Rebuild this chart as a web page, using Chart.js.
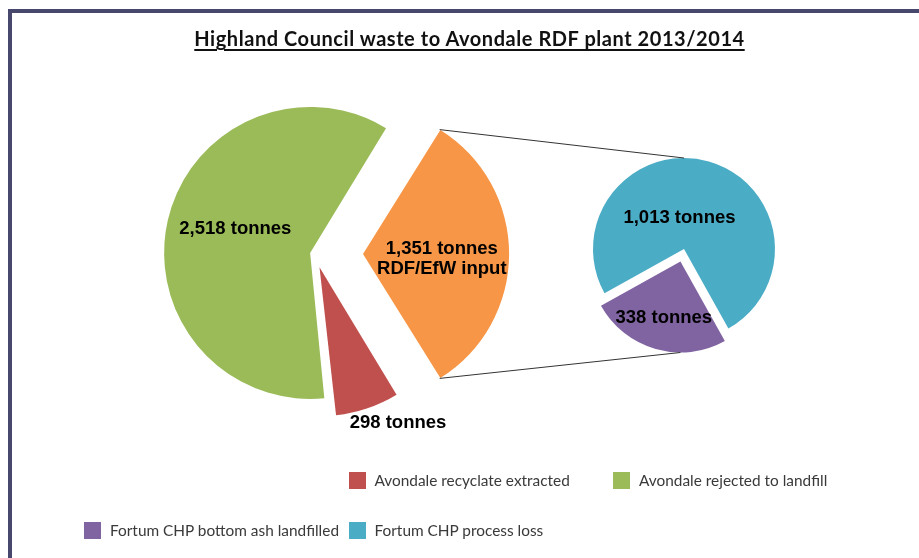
<!DOCTYPE html>
<html>
<head>
<meta charset="utf-8">
<script src="https://cdn.jsdelivr.net/npm/chart.js@4.4.1/dist/chart.umd.min.js"></script>
<style>
  html, body { margin: 0; padding: 0; background: #fff; }
  #wrap { position: relative; width: 919px; height: 558px; overflow: hidden; background: #fff; }
  #frame { position: absolute; left: 8px; top: 9px; width: 1000px; height: 700px;
           border-top: 4px solid #48486e; border-left: 4px solid #48486e; }
  canvas { position: absolute; left: 0; top: 0; }
  #title { position: absolute; left: 0; top: 26px; width: 939px; text-align: center;
           font: bold 20px Lato, sans-serif; letter-spacing: 0.55px; color: #111;
           text-decoration: underline; text-decoration-thickness: 1.5px; text-underline-offset: 3px; }
  #legend { position: absolute; left: 84px; top: 471px; display: grid;
            grid-template-columns: repeat(3, 264.5px); grid-auto-rows: 50px; }
  .item { display: flex; align-items: center; height: 18px;
          font: 15.4px Lato, sans-serif; color: #3a3a3a; }
  .key { width: 17px; height: 17px; margin-right: 9px; flex: none; }
</style>
</head>
<body>
<div id="wrap">
  <div id="frame"></div>
  <canvas id="mainPie" width="919" height="558"></canvas>
  <canvas id="subPie" width="919" height="558"></canvas>
  <div id="title">Highland Council waste to Avondale RDF plant 2013/2014</div>
  <div id="legend"></div>
</div>
<script>
// dados (tonnes)
const mainLabels = ['RDF/EfW input', 'Avondale recyclate extracted', 'Avondale rejected to landfill'];
const mainValues = [1351, 298, 2518];
const subLabels = ['Fortum CHP bottom ash landfilled', 'Fortum CHP process loss'];
const subValues = [338, 1013];
const legendLabels = ['Avondale recyclate extracted', 'Avondale rejected to landfill',
                      'Fortum CHP bottom ash landfilled', 'Fortum CHP process loss'];

const colours = {
  'RDF/EfW input': '#F79646',
  'Avondale recyclate extracted': '#C0504D',
  'Avondale rejected to landfill': '#9BBB59',
  'Fortum CHP bottom ash landfilled': '#8064A2',
  'Fortum CHP process loss': '#4BACC6',
};

const fmt = v => v.toLocaleString('en-GB') + ' tonnes';

// slice labels, placed in polar coords from the pie centre
const sliceLabels = {
  id: 'sliceLabels',
  afterDatasetsDraw(chart, args, opts) {
    const ctx = chart.ctx;
    const meta = chart.getDatasetMeta(0);
    ctx.save();
    ctx.font = 'bold 18.5px "Liberation Sans", Arial, sans-serif';
    ctx.fillStyle = '#000';
    ctx.textAlign = 'center';
    ctx.textBaseline = 'middle';
    meta.data.forEach((arc, i) => {
      const [f, da] = opts.places[i];
      const a = (arc.startAngle + arc.endAngle) / 2 + da * Math.PI / 180;
      const r = f * arc.outerRadius;
      const x = arc.x + Math.cos(a) * r;
      const y = arc.y + Math.sin(a) * r;
      const lines = opts.texts[i];
      lines.forEach((t, k) => ctx.fillText(t, x, y + (k - (lines.length - 1) / 2) * 20));
    });
    ctx.restore();
  }
};

// exploded arc geometry, as ArcElement draws it
function shift(arc) { return (arc.options.offset || 0) / 4; }
function visRadius(arc) {
  const c = arc.endAngle - arc.startAngle;
  return arc.outerRadius + shift(arc) * (1 - Math.sin(Math.min(Math.PI, c)));
}
function arcPoint(arc, angle) {
  const mid = (arc.startAngle + arc.endAngle) / 2;
  const t = shift(arc);
  const r = visRadius(arc);
  return { x: arc.x + Math.cos(mid) * t + Math.cos(angle) * r,
           y: arc.y + Math.sin(mid) * t + Math.sin(angle) * r };
}

const total = mainValues.reduce((a, b) => a + b, 0);

const mainChart = new Chart(document.getElementById('mainPie'), {
  type: 'pie',
  data: {
    labels: mainLabels,
    datasets: [{
      data: mainValues,
      backgroundColor: mainLabels.map(l => colours[l]),
      borderWidth: 0,
      offset: [192, 56, 20],
    }],
  },
  options: {
    responsive: false,
    animation: false,
    events: [],
    radius: 141,
    rotation: 90 - mainValues[0] / total * 180,
    layout: { padding: { left: 0, right: 289, top: 0, bottom: 50 } },
    plugins: {
      legend: { display: false },
      tooltip: { enabled: false },
      sliceLabels: {
        places: [[0.90, 2.2], [1.335, -7.4], [0.592, 4.5]],
        texts: [[fmt(mainValues[0]), 'RDF/EfW input'], [fmt(mainValues[1])], [fmt(mainValues[2])]],
      },
    },
  },
  plugins: [sliceLabels],
});

const connectors = {
  id: 'connectors',
  afterDraw(chart) {
    const src = mainChart.getDatasetMeta(0).data[0];
    const sub = chart.getDatasetMeta(0).data;
    const top = arcPoint(sub[1], -Math.PI / 2);
    const bottom = arcPoint(sub[0], Math.PI / 2);
    const p1 = arcPoint(src, src.startAngle);
    const p2 = arcPoint(src, src.endAngle);
    const ctx = chart.ctx;
    ctx.save();
    ctx.strokeStyle = '#333';
    ctx.lineWidth = 1;
    ctx.beginPath();
    ctx.moveTo(p1.x, p1.y); ctx.lineTo(top.x, top.y);
    ctx.moveTo(p2.x, p2.y); ctx.lineTo(bottom.x, bottom.y);
    ctx.stroke();
    ctx.restore();
  }
};

new Chart(document.getElementById('subPie'), {
  type: 'pie',
  data: {
    labels: subLabels,
    datasets: [{
      data: subValues,
      backgroundColor: subLabels.map(l => colours[l]),
      borderWidth: 0,
      offset: [52, 0],
    }],
  },
  options: {
    responsive: false,
    animation: false,
    events: [],
    radius: 91,
    rotation: 150.8,
    layout: { padding: { left: 449, right: 0, top: 0, bottom: 60 } },
    plugins: {
      legend: { display: false },
      tooltip: { enabled: false },
      sliceLabels: {
        places: [[0.79, 0.5], [0.35, -24]],
        texts: [[fmt(subValues[0])], [fmt(subValues[1])]],
      },
    },
  },
  plugins: [sliceLabels, connectors],
});

// legend (Excel leaves the first slot empty)
const legend = document.getElementById('legend');
legendLabels.forEach((l, i) => {
  const item = document.createElement('div');
  item.className = 'item';
  if (i === 0) item.style.gridColumnStart = 2;
  const key = document.createElement('span');
  key.className = 'key';
  key.style.background = colours[l];
  item.appendChild(key);
  item.appendChild(document.createTextNode(l));
  legend.appendChild(item);
});
</script>
</body>
</html>
